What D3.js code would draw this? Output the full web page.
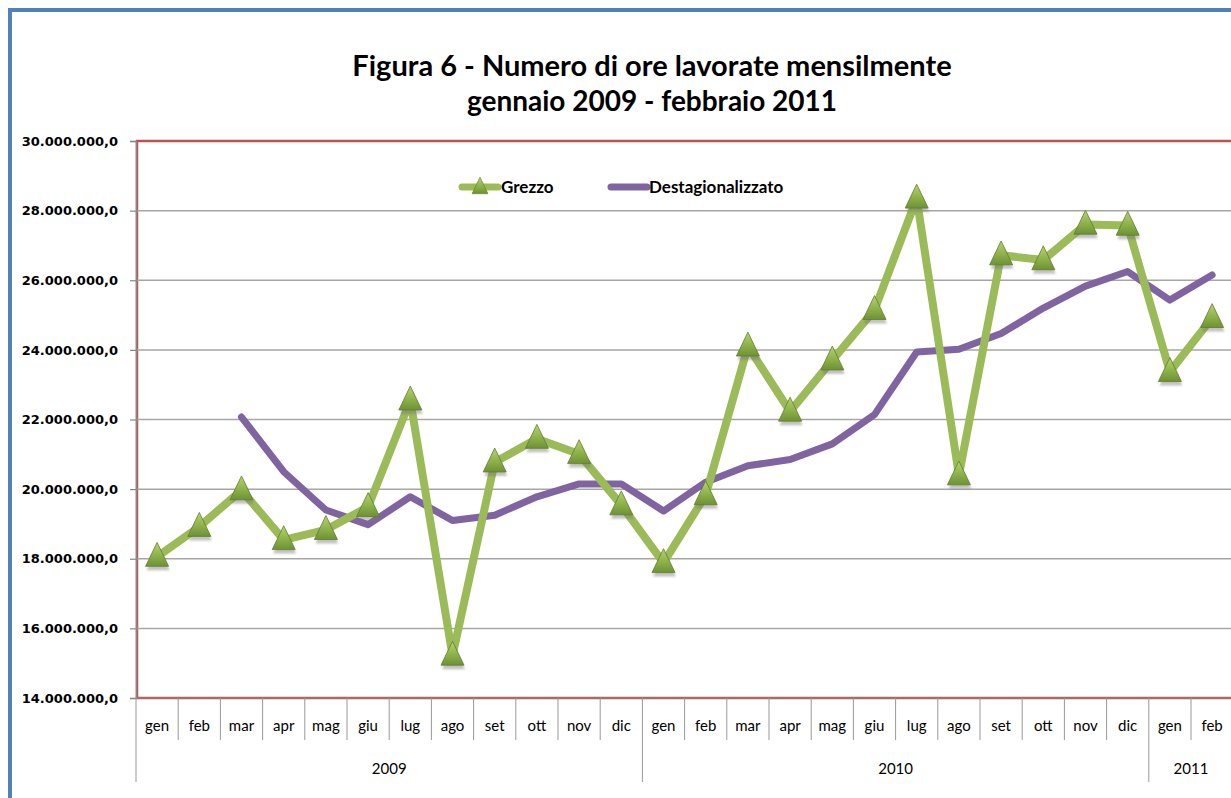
<!DOCTYPE html>
<html>
<head>
<meta charset="utf-8">
<script src="https://cdn.jsdelivr.net/npm/d3@7"></script>
<style>
  body { margin: 0; background: #fff; }
  svg { display: block; }
</style>
</head>
<body>
<div class="chart"></div>
<script>
// month labels, 26 categories
const months = ["gen","feb","mar","apr","mag","giu","lug","ago","set","ott","nov","dic",
  "gen","feb","mar","apr","mag","giu","lug","ago","set","ott","nov","dic",
  "gen","feb"];
const years = ["2009", "2010", "2011"];
const yearCounts = [12, 12, 2];

// hours worked (raw series)
const grezzo = [
  18060000, 18920000, 19970000, 18540000, 18830000, 19490000, 22550000, 15220000, 20770000, 21450000, 21010000, 19540000,
  17880000, 19830000, 24100000, 22230000, 23700000, 25150000, 28350000, 20400000, 26720000, 26580000, 27600000, 27570000,
  23370000, 24920000
];
// seasonally adjusted series (starts in March 2009)
const destag = [
  null, null, 22070000, 20500000, 19400000, 18980000, 19780000, 19100000, 19250000, 19780000, 20150000, 20150000,
  19370000, 20200000, 20670000, 20850000, 21300000, 22140000, 23940000, 24020000, 24470000, 25200000, 25830000, 26250000,
  25430000, 26150000
];
const yTicks = [14000000, 16000000, 18000000, 20000000, 22000000, 24000000, 26000000, 28000000, 30000000];

const width = 1231, height = 798;
const margin = { top: 141, left: 136, bottom: 698 };
const plotRight = 136 + 26 * 42.2;

const itFormat = d3.formatLocale({ decimal: ",", thousands: ".", grouping: [3], currency: ["€", ""] }).format(",.1f");

const svg = d3.select(".chart").append("svg")
  .attr("width", width)
  .attr("height", height);

const defs = svg.append("defs");
const grad = defs.append("linearGradient")
  .attr("id", "triGrad")
  .attr("x1", 0).attr("y1", 0).attr("x2", 0).attr("y2", 1);
grad.append("stop").attr("offset", "0%").attr("stop-color", "#b5d36e");
grad.append("stop").attr("offset", "55%").attr("stop-color", "#8db24a");
grad.append("stop").attr("offset", "100%").attr("stop-color", "#6e9134");
defs.append("filter").attr("id", "blur")
  .append("feGaussianBlur").attr("stdDeviation", 1.2);

// outer blue frame (runs off the right / bottom edge)
svg.append("rect")
  .attr("x", 10).attr("y", 10)
  .attr("width", width + 20).attr("height", height + 20)
  .attr("fill", "none")
  .attr("stroke", "#4f81bd")
  .attr("stroke-width", 4);

// title
const title = svg.append("text")
  .attr("text-anchor", "middle")
  .style("font-family", "Lato, 'Open Sans', sans-serif")
  .style("font-weight", "bold")
  .attr("fill", "#000");
title.append("tspan").attr("x", 652).attr("y", 76).style("font-size", "29px")
  .text("Figura 6 - Numero di ore lavorate mensilmente");
title.append("tspan").attr("x", 652).attr("y", 111).style("font-size", "28px")
  .text("gennaio 2009 - febbraio 2011");

const x = d3.scaleBand()
  .domain(d3.range(months.length))
  .range([margin.left, plotRight])
  .paddingInner(0).paddingOuter(0);
const cx = (i) => x(i) + x.bandwidth() / 2;

const y = d3.scaleLinear()
  .domain([14000000, 30000000])
  .range([margin.bottom, margin.top]);

// plot area border (red)
svg.append("rect")
  .attr("x", margin.left + 1).attr("y", margin.top)
  .attr("width", plotRight - margin.left)
  .attr("height", margin.bottom - margin.top)
  .attr("fill", "none")
  .attr("stroke", "#c0504d")
  .attr("stroke-width", 2.5);

// gridlines
svg.append("g")
  .selectAll("line")
  .data(yTicks.filter((d) => d > 14000000 && d < 30000000))
  .join("line")
  .attr("x1", margin.left).attr("x2", plotRight)
  .attr("y1", (d) => y(d)).attr("y2", (d) => y(d))
  .attr("stroke", "#a6a6a6")
  .attr("stroke-width", 1.5);

// y axis
const yAxis = svg.append("g")
  .attr("transform", `translate(${margin.left},0)`)
  .call(d3.axisLeft(y).tickValues(yTicks).tickFormat(itFormat).tickSize(6).tickPadding(12));
yAxis.select(".domain").attr("stroke", "#888").attr("stroke-width", 1.5);
yAxis.selectAll(".tick line").attr("stroke", "#888").attr("stroke-width", 1.2);
yAxis.selectAll(".tick text")
  .style("font-family", "'DejaVu Sans', Verdana, sans-serif")
  .style("font-weight", "bold")
  .style("font-size", "13px")
  .attr("fill", "#000");

// x axis: month separators and labels
const xg = svg.append("g");
xg.append("line")
  .attr("x1", margin.left).attr("x2", plotRight)
  .attr("y1", margin.bottom).attr("y2", margin.bottom)
  .attr("stroke", "#888").attr("stroke-width", 1.2);
xg.selectAll(".msep")
  .data(d3.range(months.length + 1))
  .join("line")
  .attr("class", "msep")
  .attr("x1", (i) => (i < months.length ? x(i) : plotRight))
  .attr("x2", (i) => (i < months.length ? x(i) : plotRight))
  .attr("y1", margin.bottom).attr("y2", 740)
  .attr("stroke", "#999").attr("stroke-width", 1);
xg.selectAll(".mlab")
  .data(months)
  .join("text")
  .attr("class", "mlab")
  .attr("x", (d, i) => cx(i))
  .attr("y", 731)
  .attr("text-anchor", "middle")
  .style("font-family", "Lato, 'Open Sans', sans-serif")
  .style("font-size", "15px")
  .attr("fill", "#000")
  .text((d) => d);

// year groups
const yearStart = [0];
yearCounts.forEach((n, i) => yearStart.push(yearStart[i] + n));
xg.selectAll(".ysep")
  .data(yearStart)
  .join("line")
  .attr("class", "ysep")
  .attr("x1", (i) => (i < months.length ? x(i) : plotRight))
  .attr("x2", (i) => (i < months.length ? x(i) : plotRight))
  .attr("y1", 740).attr("y2", 782)
  .attr("stroke", "#999").attr("stroke-width", 1);
xg.selectAll(".ylab")
  .data(years)
  .join("text")
  .attr("class", "ylab")
  .attr("x", (d, i) => {
    const a = x(yearStart[i]);
    const end = yearStart[i + 1];
    const b = end < months.length ? x(end) : plotRight;
    return (a + b) / 2;
  })
  .attr("y", 774)
  .attr("text-anchor", "middle")
  .style("font-family", "Lato, 'Open Sans', sans-serif")
  .style("font-size", "15px")
  .attr("fill", "#000")
  .text((d) => d);

// lines
const line = d3.line()
  .defined((d) => d != null)
  .x((d, i) => cx(i))
  .y((d) => y(d));

svg.append("path")
  .datum(destag)
  .attr("d", line)
  .attr("fill", "none")
  .attr("stroke", "#8064a2")
  .attr("stroke-width", 7)
  .attr("stroke-linejoin", "round")
  .attr("stroke-linecap", "round");

svg.append("path")
  .datum(grezzo)
  .attr("d", line)
  .attr("fill", "none")
  .attr("stroke", "#9bbb59")
  .attr("stroke-width", 8)
  .attr("stroke-linejoin", "round");

// triangle markers
const tri = (px, py, s) => `M${px},${py - s * 0.62}L${px + s / 2},${py + s * 0.42}L${px - s / 2},${py + s * 0.42}Z`;
const marks = svg.append("g");
marks.selectAll(".shadow")
  .data(grezzo)
  .join("path")
  .attr("class", "shadow")
  .attr("d", (d, i) => tri(cx(i) + 1, y(d) + 4, 23))
  .attr("fill", "#777")
  .attr("opacity", 0.45)
  .attr("filter", "url(#blur)");
marks.selectAll(".tri")
  .data(grezzo)
  .join("path")
  .attr("class", "tri")
  .attr("d", (d, i) => tri(cx(i), y(d), 23))
  .attr("fill", "url(#triGrad)")
  .attr("stroke", "#5f7f2c")
  .attr("stroke-width", 0.8);

// legend
const legend = svg.append("g")
  .style("font-family", "Lato, 'Open Sans', sans-serif")
  .style("font-weight", "bold")
  .style("font-size", "17px");
legend.append("line")
  .attr("x1", 462).attr("x2", 498).attr("y1", 187).attr("y2", 187)
  .attr("stroke", "#9bbb59").attr("stroke-width", 7).attr("stroke-linecap", "round");
legend.append("path")
  .attr("d", tri(480, 187, 16))
  .attr("fill", "url(#triGrad)")
  .attr("stroke", "#5f7f2c").attr("stroke-width", 0.6);
legend.append("text").attr("x", 501).attr("y", 193).text("Grezzo");
legend.append("line")
  .attr("x1", 611).attr("x2", 647).attr("y1", 187).attr("y2", 187)
  .attr("stroke", "#8064a2").attr("stroke-width", 7).attr("stroke-linecap", "round");
legend.append("text").attr("x", 649).attr("y", 193).text("Destagionalizzato");
</script>
</body>
</html>
